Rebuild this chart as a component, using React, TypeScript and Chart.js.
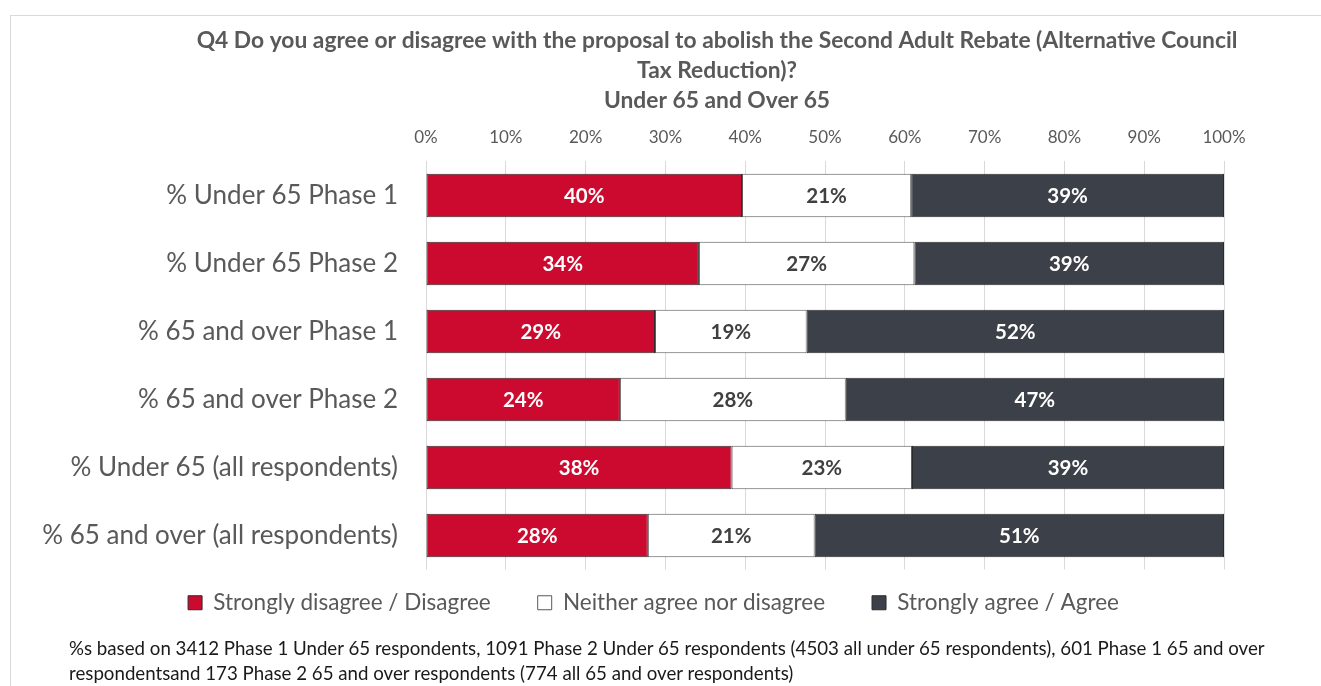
import React, { useEffect, useRef } from "react";
import { Chart, registerables } from "chart.js";

Chart.register(...registerables);

const categories = [
  "% Under 65 Phase 1",
  "% Under 65 Phase 2",
  "% 65 and over Phase 1",
  "% 65 and over Phase 2",
  "% Under 65 (all respondents)",
  "% 65 and over (all respondents)",
];
const seriesNames = [
  "Strongly disagree / Disagree",
  "Neither agree nor disagree",
  "Strongly agree / Agree",
];
const disagreeValues = [39.6, 34.2, 28.7, 24.3, 38.3, 27.8];
const neitherValues = [21.2, 27.0, 19.0, 28.3, 22.6, 20.9];
const agreeValues = [39.2, 38.8, 52.3, 47.4, 39.1, 51.3];
const seriesColors = ["#CC0A2F", "#FFFFFF", "#3C4048"];
const labelColors = ["#FFFFFF", "#404040", "#FFFFFF"];
const xTickMin = 0;
const xTickMax = 100;
const xTickStep = 10;
const titleLines = [
  "Q4 Do you agree or disagree with the proposal to abolish the Second Adult Rebate (Alternative Council",
  "Tax Reduction)?",
  "Under 65 and Over 65",
];
const footnoteLines = [
  "%s based on 3412 Phase 1 Under 65 respondents, 1091 Phase 2 Under 65 respondents (4503 all under 65 respondents), 601 Phase 1 65 and over",
  "respondentsand 173 Phase 2 65 and over respondents (774 all 65 and over respondents)",
];

const FONT = "Lato, 'Open Sans', sans-serif";
const CANVAS_W = 1310;
const CANVAS_H = 633;

const barLabels = {
  id: "barLabels",
  afterDatasetsDraw(chart: any) {
    const ctx = chart.ctx;
    chart.data.datasets.forEach((ds: any, i: number) => {
      const meta = chart.getDatasetMeta(i);
      meta.data.forEach((el: any, j: number) => {
        const v = ds.data[j];
        const p = el.getProps(["x", "y", "base"], true);
        ctx.save();
        ctx.font = `bold 20.5px ${FONT}`;
        ctx.fillStyle = labelColors[i];
        ctx.textAlign = "center";
        ctx.textBaseline = "middle";
        ctx.fillText(`${Math.round(v)}%`, (p.x + p.base) / 2, p.y + 1);
        ctx.restore();
      });
    });
  },
};

// Horizontal offsets of the title and legend boxes (they are centred on
// different points in the original layout).
const layoutTweaks = {
  id: "layoutTweaks",
  afterLayout(chart: any) {
    const shift = (box: any, dx: number, dy: number) => {
      if (!box) return;
      box.left += dx;
      box.right += dx;
      box.top += dy;
      box.bottom += dy;
    };
    shift(chart.titleBlock, 99.5, 0);
    shift(chart.legend, 36, -25);
  },
};

export default function App() {
  const ref = useRef<HTMLCanvasElement | null>(null);

  useEffect(() => {
    if (!ref.current) return;
    const values = [disagreeValues, neitherValues, agreeValues];
    const chart = new Chart(ref.current, {
      type: "bar",
      data: {
        labels: categories,
        datasets: seriesNames.map((name, i) => ({
          label: name,
          data: values[i],
          backgroundColor: seriesColors[i],
          borderColor: i === 1 ? "#595959" : "#2b2b2b",
          borderWidth: 1,
          borderSkipped: false,
          categoryPercentage: 1,
          barPercentage: 0.64,
        })),
      },
      options: {
        indexAxis: "y",
        responsive: false,
        animation: false,
        layout: { padding: { left: 0, right: 97, top: 0, bottom: 0 } },
        scales: {
          x: {
            position: "top",
            stacked: true,
            min: xTickMin,
            max: xTickMax,
            ticks: {
              stepSize: xTickStep,
              padding: 14,
              color: "#595959",
              font: { family: FONT, size: 17 },
              callback: (v: any) => `${v}%`,
            },
            grid: { color: "#D9D9D9", lineWidth: 1, drawTicks: false },
            border: { display: false },
          },
          y: {
            stacked: true,
            ticks: {
              padding: 28,
              color: "#595959",
              font: { family: FONT, size: 26 },
            },
            grid: { display: false, drawTicks: false },
            border: { display: false },
            afterFit(scale: any) {
              scale.width = 415;
            },
          },
        },
        plugins: {
          title: {
            display: true,
            text: titleLines,
            color: "#595959",
            font: { family: FONT, size: 22.8, weight: "bold", lineHeight: 30 / 22.8 },
            padding: { top: 10, bottom: -3 },
          },
          legend: {
            position: "bottom",
            labels: {
              boxWidth: 14,
              boxHeight: 14,
              padding: 47,
              color: "#595959",
              font: { family: FONT, size: 22.5 },
            },
          },
          tooltip: { enabled: false },
        },
      },
      plugins: [barLabels, layoutTweaks],
    });
    return () => chart.destroy();
  }, []);

  return (
    <div
      style={{
        position: "fixed",
        left: 10,
        top: 15,
        width: 1400,
        height: 700,
        borderTop: "1px solid #D9D9D9",
        borderLeft: "1px solid #D9D9D9",
        background: "#FFFFFF",
      }}
    >
      <canvas
        ref={ref}
        width={CANVAS_W}
        height={CANVAS_H}
        style={{ position: "absolute", left: 0, top: 0, width: CANVAS_W, height: CANVAS_H }}
      />
      <div
        style={{
          position: "absolute",
          left: 58,
          top: 620,
          fontFamily: FONT,
          fontSize: 18.7,
          lineHeight: "25px",
          color: "#1A1A1A",
          whiteSpace: "nowrap",
        }}
      >
        {footnoteLines.map((t, i) => (
          <div key={i}>{t}</div>
        ))}
      </div>
    </div>
  );
}
